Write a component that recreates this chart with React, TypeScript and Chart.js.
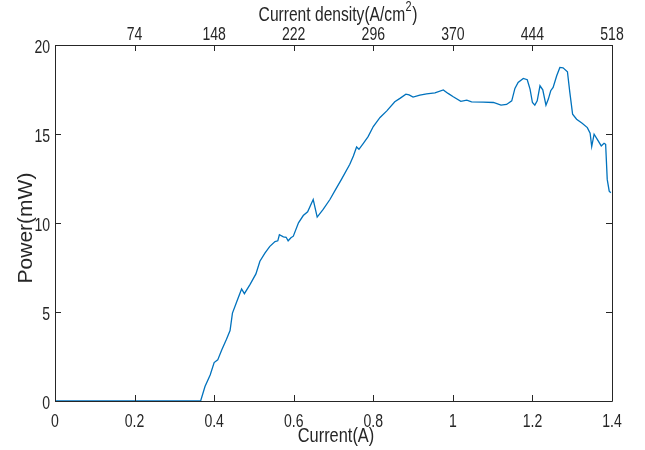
import React, { useEffect, useRef } from "react";
import { Chart, registerables } from "chart.js";
Chart.register(...registerables);

const currentA = [
  0, 0.366, 0.377, 0.39, 0.4, 0.409, 0.419, 0.431, 0.44, 0.446, 0.457, 0.469, 0.476, 0.49, 0.505, 0.515,
  0.528, 0.54, 0.553, 0.56, 0.564, 0.574, 0.581, 0.586, 0.593, 0.599, 0.612, 0.624, 0.635, 0.649, 0.659,
  0.674, 0.691, 0.704, 0.72, 0.741, 0.75, 0.758, 0.764, 0.775, 0.787, 0.8, 0.817, 0.834, 0.854, 0.867,
  0.882, 0.89, 0.9, 0.917, 0.934, 0.955, 0.976, 0.988, 1.001, 1.02, 1.035, 1.047, 1.076, 1.102, 1.121,
  1.135, 1.148, 1.156, 1.164, 1.177, 1.187, 1.194, 1.2, 1.206, 1.212, 1.219, 1.226, 1.234, 1.24, 1.246,
  1.252, 1.261, 1.269, 1.277, 1.288, 1.294, 1.301, 1.311, 1.325, 1.338, 1.345, 1.349, 1.355, 1.363,
  1.373, 1.38, 1.384, 1.388, 1.393, 1.397,
];
const powerMW = [
  0, 0, 0.81, 1.46, 2.16, 2.31, 2.87, 3.47, 3.96, 4.94, 5.59, 6.29, 6.03, 6.54, 7.14, 7.85,
  8.32, 8.69, 8.96, 9.0, 9.34, 9.22, 9.2, 9.0, 9.17, 9.26, 10.01, 10.42, 10.63, 11.32, 10.33,
  10.76, 11.32, 11.83, 12.45, 13.3, 13.77, 14.27, 14.14, 14.48, 14.85, 15.42, 15.93, 16.3, 16.81, 17.0,
  17.24, 17.2, 17.07, 17.18, 17.26, 17.31, 17.48, 17.28, 17.09, 16.83, 16.9, 16.81, 16.79, 16.77, 16.62,
  16.66, 16.86, 17.56, 17.9, 18.12, 18.05, 17.52, 16.77, 16.62, 16.86, 17.71, 17.48, 16.62, 16.96, 17.43,
  17.62, 18.27, 18.74, 18.72, 18.5, 17.34, 16.11, 15.83, 15.61, 15.36, 15.04, 14.29, 14.99, 14.7,
  14.33, 14.48, 14.42, 12.45, 11.79, 11.7,
];
const xTickValues = [0, 0.2, 0.4, 0.6, 0.8, 1, 1.2, 1.4];
const xTickLabels = ["0", "0.2", "0.4", "0.6", "0.8", "1", "1.2", "1.4"];
const topTickLabels = ["", "74", "148", "222", "296", "370", "444", "518"];
const yTickValues = [0, 5, 10, 15, 20];
const yTickLabels = ["0", "5", "10", "15", "20"];
const xTitle = "Current(A)";
const yTitle = "Power(mW)";
const topTitleMain = "Current density(A/cm";
const topTitleSup = "2";
const topTitleTail = ")";

const AXIS = "#262626";
const LINE = "#0072BD";
const SANS = "'Liberation Sans', Arial, Helvetica, sans-serif";
const SX = 0.78; // horizontal condensation of the MATLAB-style font

function condText(ctx: any, text: string, x: number, y: number, size: number, align: "left" | "center" | "right", baseline: any = "alphabetic") {
  ctx.save();
  ctx.font = `${size}px ${SANS}`;
  ctx.textAlign = align;
  ctx.textBaseline = baseline;
  ctx.translate(x, y);
  ctx.scale(SX, 1);
  ctx.fillText(text, 0, 0);
  ctx.restore();
}
function condWidth(ctx: any, text: string, size: number) {
  ctx.save();
  ctx.font = `${size}px ${SANS}`;
  const w = ctx.measureText(text).width * SX;
  ctx.restore();
  return w;
}

const framePlugin = {
  id: "frame",
  afterDraw(chart: any) {
    const { ctx, chartArea } = chart;
    const { left, right, top, bottom } = chartArea;
    const xs = chart.scales.x;
    const ys = chart.scales.y;
    ctx.save();
    ctx.strokeStyle = AXIS;
    ctx.lineWidth = 1;
    ctx.beginPath();
    ctx.rect(Math.round(left) + 0.5, Math.round(top) + 0.5, Math.round(right - left), Math.round(bottom - top));
    ctx.stroke();
    const tl = 6;
    ctx.beginPath();
    for (const v of xTickValues) {
      const px = Math.round(xs.getPixelForValue(v)) + 0.5;
      ctx.moveTo(px, bottom);
      ctx.lineTo(px, bottom - tl);
      ctx.moveTo(px, top);
      ctx.lineTo(px, top + tl);
    }
    for (const v of yTickValues) {
      const py = Math.round(ys.getPixelForValue(v)) + 0.5;
      ctx.moveTo(left, py);
      ctx.lineTo(left + tl, py);
      ctx.moveTo(right, py);
      ctx.lineTo(right - tl, py);
    }
    ctx.stroke();

    ctx.fillStyle = AXIS;
    // tick labels
    xTickValues.forEach((v, i) => {
      const px = xs.getPixelForValue(v);
      condText(ctx, xTickLabels[i], px, bottom + 26, 18, "center");
      if (topTickLabels[i]) condText(ctx, topTickLabels[i], px, top - 5.5, 18, "center");
    });
    yTickValues.forEach((v, i) => {
      const py = ys.getPixelForValue(v);
      condText(ctx, yTickLabels[i], left - 5, py + 8, 18, "right");
    });

    // bottom title
    condText(ctx, xTitle, 336, 442, 21, "center");

    // top title with superscript
    const wMain = condWidth(ctx, topTitleMain, 20);
    const wSup = condWidth(ctx, topTitleSup, 14);
    const wTail = condWidth(ctx, topTitleTail, 20);
    const x0 = 338 - (wMain + wSup + 1 + wTail) / 2;
    condText(ctx, topTitleMain, x0, 20.5, 20, "left");
    condText(ctx, topTitleSup, x0 + wMain + 0.5, 11, 14, "left");
    condText(ctx, topTitleTail, x0 + wMain + wSup + 1, 20.5, 20, "left");

    // y title (not condensed)
    ctx.save();
    ctx.translate(31.5, 228);
    ctx.rotate(-Math.PI / 2);
    ctx.textAlign = "center";
    ctx.textBaseline = "alphabetic";
    ctx.font = `21px ${SANS}`;
    ctx.fillText(yTitle, 0, 0);
    ctx.restore();
    ctx.restore();
  },
};

export default function App() {
  const ref = useRef<HTMLCanvasElement>(null);
  useEffect(() => {
    const points = currentA.map((x, i) => ({ x, y: powerMW[i] }));
    const chart = new Chart(ref.current!, {
      type: "scatter",
      data: {
        datasets: [
          {
            data: points,
            showLine: true,
            pointRadius: 0,
            borderColor: LINE,
            borderWidth: 1.3,
            tension: 0,
          },
        ],
      },
      options: {
        animation: false,
        responsive: false,
        events: [],
        layout: { padding: { left: 0, right: 33, top: 0, bottom: 0 } },
        plugins: { legend: { display: false }, tooltip: { enabled: false } },
        scales: {
          x: {
            type: "linear",
            position: "bottom",
            min: 0,
            max: 1.4,
            ticks: { display: false },
            grid: { display: false, drawTicks: false },
            border: { display: false },
            afterFit: (s: any) => {
              s.height = 49;
            },
          },
          x2: {
            type: "linear",
            position: "top",
            min: 0,
            max: 1.4,
            ticks: { display: false },
            grid: { display: false, drawTicks: false },
            border: { display: false },
            afterFit: (s: any) => {
              s.height = 45;
            },
          },
          y: {
            type: "linear",
            min: 0,
            max: 20,
            ticks: { display: false },
            grid: { display: false, drawTicks: false },
            border: { display: false },
            afterFit: (s: any) => {
              s.width = 55;
            },
          },
        },
      },
      plugins: [framePlugin],
    });
    return () => chart.destroy();
  }, []);
  return (
    <div style={{ position: "absolute", left: 0, top: 0, width: 645, height: 450, background: "#fff" }}>
      <canvas ref={ref} width={645} height={450} style={{ width: 645, height: 450, display: "block" }} />
    </div>
  );
}
